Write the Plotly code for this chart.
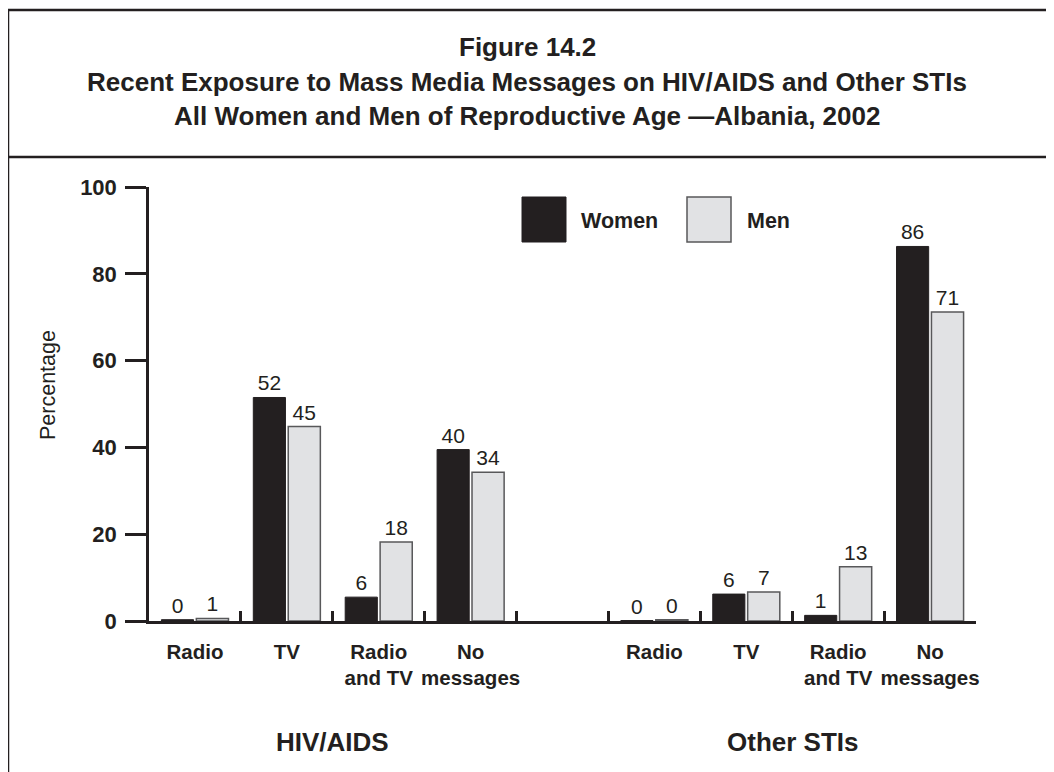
import plotly.graph_objects as go

# Media categories, repeated for each topic group
categories = ["Radio", "TV", "Radio<br>and TV", "No<br>messages"]
groups = ["HIV/AIDS", "Other STIs"]

# Bar heights as drawn (percent) and the published rounded labels
women_hiv = [0.3, 51.5, 5.5, 39.5]
men_hiv = [0.6, 44.8, 18.2, 34.3]
women_sti = [0.1, 6.2, 1.3, 86.3]
men_sti = [0.3, 6.7, 12.5, 71.2]

women_hiv_lbl = ["0", "52", "6", "40"]
men_hiv_lbl = ["1", "45", "18", "34"]
women_sti_lbl = ["0", "6", "1", "86"]
men_sti_lbl = ["0", "7", "13", "71"]

y_ticks = [0, 20, 40, 60, 80, 100]

title_lines = [
    "Figure 14.2",
    "Recent Exposure to Mass Media Messages on HIV/AIDS and Other STIs",
    "All Women and Men of Reproductive Age \u2014Albania, 2002",
]

FONT = "Liberation Sans, Arial, Helvetica, sans-serif"
INK = "#231f20"
MEN_FILL = "#e1e2e4"
MEN_EDGE = "#58585a"

# slot positions: group 1 in slots 0-3, empty slot 4, group 2 in slots 5-8
n = len(categories)
slots = [i for i in range(n)] + [n + 1 + i for i in range(n)]
centers = [s + 0.5 for s in slots]
women = women_hiv + women_sti
men = men_hiv + men_sti
women_lbl = women_hiv_lbl + women_sti_lbl
men_lbl = men_hiv_lbl + men_sti_lbl
n_slots = 2 * n + 1

fig = go.Figure()
fig.add_trace(go.Bar(
    x=centers, y=women, name="Women", text=women_lbl,
    textposition="outside", constraintext="none", cliponaxis=False,
    marker=dict(color=INK, line=dict(color=INK, width=1)),
    textfont=dict(family=FONT, size=21, color=INK),
))
fig.add_trace(go.Bar(
    x=centers, y=men, name="Men", text=men_lbl,
    textposition="outside", constraintext="none", cliponaxis=False,
    marker=dict(color=MEN_FILL, line=dict(color=MEN_EDGE, width=1.5)),
    textfont=dict(family=FONT, size=21, color=INK),
))
# invisible trace to activate the label axis
fig.add_trace(go.Scatter(x=centers, y=[0] * len(centers), xaxis="x2",
                         mode="markers", marker=dict(opacity=0),
                         showlegend=False, hoverinfo="skip"))

# the page body adds an 8px margin; positions below are in screen pixels
OFF = 8
W, H = 1054, 772
L, T = 149 - OFF, 187 - OFF
R = W - (976 - OFF)
B = H - (621 - OFF)
pw, ph = W - L - R, H - T - B


def px(x):
    return (x - OFF - L) / pw


def py(y):
    return (H - B - (y - OFF)) / ph


shapes = [
    # outer frame and title divider
    dict(type="line", xref="paper", yref="paper", x0=px(8), x1=px(1070), y0=py(10), y1=py(10),
         line=dict(color=INK, width=2.5)),
    dict(type="line", xref="paper", yref="paper", x0=px(8), x1=px(8), y0=py(10), y1=py(800),
         line=dict(color=INK, width=2.5)),
    dict(type="line", xref="paper", yref="paper", x0=px(8), x1=px(1070), y0=py(157), y1=py(157),
         line=dict(color=INK, width=2.5)),
    # legend swatches
    dict(type="rect", xref="paper", yref="paper", x0=px(522), x1=px(566), y0=py(242), y1=py(197),
         fillcolor=INK, line=dict(color=INK, width=1)),
    dict(type="rect", xref="paper", yref="paper", x0=px(687), x1=px(731), y0=py(242), y1=py(197),
         fillcolor=MEN_FILL, line=dict(color=MEN_EDGE, width=1.5)),
]

annotations = [
    dict(text="<b>Women</b>", xref="paper", yref="paper", x=px(579), y=py(221),
         xanchor="left", yanchor="middle", showarrow=False,
         font=dict(family=FONT, size=21.5, color=INK)),
    dict(text="<b>Men</b>", xref="paper", yref="paper", x=px(745), y=py(221),
         xanchor="left", yanchor="middle", showarrow=False,
         font=dict(family=FONT, size=21.5, color=INK)),
    dict(text="Percentage", xref="paper", yref="paper", x=px(48), y=py(385),
         textangle=-90, showarrow=False, xanchor="center", yanchor="middle",
         font=dict(family=FONT, size=21.5, color=INK)),
]
for line, ypos in zip(title_lines, [47, 82, 116]):
    annotations.append(dict(
        text="<b>%s</b>" % line, xref="paper", yref="paper", x=px(527), y=py(ypos),
        xanchor="center", yanchor="middle", showarrow=False,
        font=dict(family=FONT, size=26, color=INK)))
for g, grp in enumerate(groups):
    first = g * (n + 1)
    annotations.append(dict(
        text="<b>%s</b>" % grp, xref="x", yref="paper", x=first + n / 2, y=py(742),
        xanchor="center", yanchor="middle", showarrow=False,
        font=dict(family=FONT, size=26, color=INK)))

fig.update_layout(
    width=W, height=H,
    margin=dict(l=L, r=R, t=T, b=B, pad=0),
    paper_bgcolor="white", plot_bgcolor="white",
    barmode="group", bargap=0.24, bargroupgap=0.08,
    showlegend=False,
    xaxis=dict(range=[0, n_slots], tick0=0, dtick=1, ticks="inside", ticklen=10,
               tickwidth=2.5, tickcolor=INK, showticklabels=False, showgrid=False,
               zeroline=False, showline=True, linewidth=2.5, linecolor=INK),
    xaxis2=dict(range=[0, n_slots], overlaying="x", anchor="y", side="bottom",
                tickvals=centers, ticktext=["<b>%s</b>" % c for c in categories] * 2,
                tickangle=0, ticks="", showgrid=False, zeroline=False, showline=False,
                ticklabelstandoff=16,
                tickfont=dict(family=FONT, size=20.5, color=INK)),
    yaxis=dict(range=[0, 100], tickvals=y_ticks, ticktext=["<b>%d</b>" % v for v in y_ticks],
               ticks="outside", ticklen=21, tickwidth=2.5, tickcolor=INK,
               ticklabelstandoff=4,
               tickfont=dict(family=FONT, size=22, color=INK),
               showgrid=False, zeroline=False, showline=True, linewidth=2.5, linecolor=INK),
    shapes=shapes, annotations=annotations,
)

fig.write_html("out.html")
